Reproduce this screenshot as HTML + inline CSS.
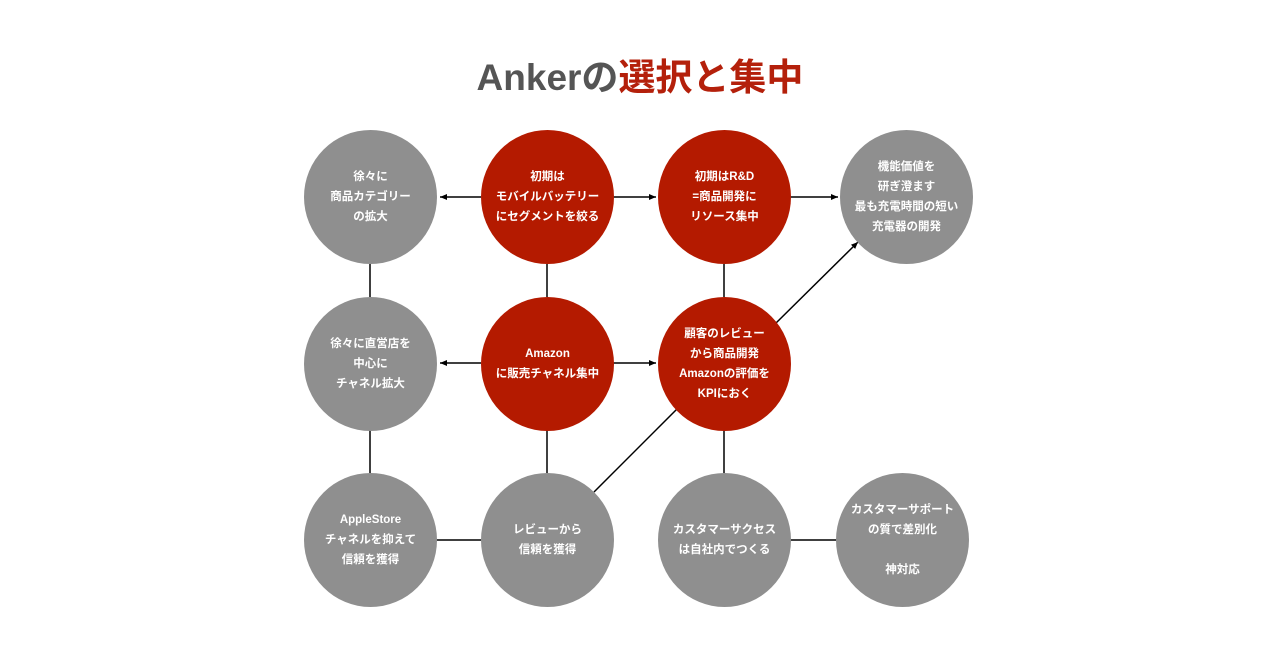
<!DOCTYPE html>
<html><head><meta charset="utf-8"><style>
body{margin:0;width:1280px;height:670px;background:#fff;overflow:hidden;position:relative;font-family:"Liberation Sans","Noto Sans CJK JP",sans-serif}
.t{position:absolute;top:47px;left:0;width:1280px;text-align:center;font-size:37px;font-weight:bold;color:#555}
.t span{color:#b4200b}
.c{position:absolute;width:133px;height:134px;border-radius:50%;display:flex;align-items:center;justify-content:center;text-align:center;color:#fff;font-size:11.5px;line-height:20px;font-weight:bold}
.g{background:#8f8f8f}.r{background:#b41a00}
</style></head><body>
<div class="t">Ankerの<span>選択と集中</span></div>
<svg width="1280" height="670" style="position:absolute;left:0;top:0">
<defs><marker id="a" markerWidth="8" markerHeight="8" refX="7" refY="4" orient="auto" markerUnits="userSpaceOnUse"><path d="M0,1 L7,4 L0,7z" fill="#000"/></marker></defs>
<g stroke="#000" stroke-width="1.5">
<line x1="481" y1="197" x2="440" y2="197" marker-end="url(#a)"/>
<line x1="613" y1="197" x2="656" y2="197" marker-end="url(#a)"/>
<line x1="790" y1="197" x2="838" y2="197" marker-end="url(#a)"/>
<line x1="481" y1="363" x2="440" y2="363" marker-end="url(#a)"/>
<line x1="613" y1="363" x2="656" y2="363" marker-end="url(#a)"/>
<line x1="370" y1="264" x2="370" y2="297"/>
<line x1="547" y1="264" x2="547" y2="297"/>
<line x1="724" y1="264" x2="724" y2="297"/>
<line x1="370" y1="430" x2="370" y2="473"/>
<line x1="547" y1="430" x2="547" y2="473"/>
<line x1="724" y1="430" x2="724" y2="473"/>
<line x1="436" y1="540" x2="481" y2="540"/>
<line x1="790" y1="540" x2="836" y2="540"/>
<line x1="774" y1="325" x2="858" y2="242" marker-end="url(#a)"/>
<line x1="594" y1="492" x2="678" y2="408"/>
</g></svg>
<div class="c g" style="left:304px;top:130px">徐々に<br>商品カテゴリー<br>の拡大</div>
<div class="c r" style="left:481px;top:130px">初期は<br>モバイルバッテリー<br>にセグメントを絞る</div>
<div class="c r" style="left:658px;top:130px">初期はR&amp;D<br>=商品開発に<br>リソース集中</div>
<div class="c g" style="left:840px;top:130px">機能価値を<br>研ぎ澄ます<br>最も充電時間の短い<br>充電器の開発</div>
<div class="c g" style="left:304px;top:297px">徐々に直営店を<br>中心に<br>チャネル拡大</div>
<div class="c r" style="left:481px;top:297px">Amazon<br>に販売チャネル集中</div>
<div class="c r" style="left:658px;top:297px">顧客のレビュー<br>から商品開発<br>Amazonの評価を<br>KPIにおく</div>
<div class="c g" style="left:304px;top:473px">AppleStore<br>チャネルを抑えて<br>信頼を獲得</div>
<div class="c g" style="left:481px;top:473px">レビューから<br>信頼を獲得</div>
<div class="c g" style="left:658px;top:473px">カスタマーサクセス<br>は自社内でつくる</div>
<div class="c g" style="left:836px;top:473px">カスタマーサポート<br>の質で差別化<br><br>神対応</div>
</body></html>
